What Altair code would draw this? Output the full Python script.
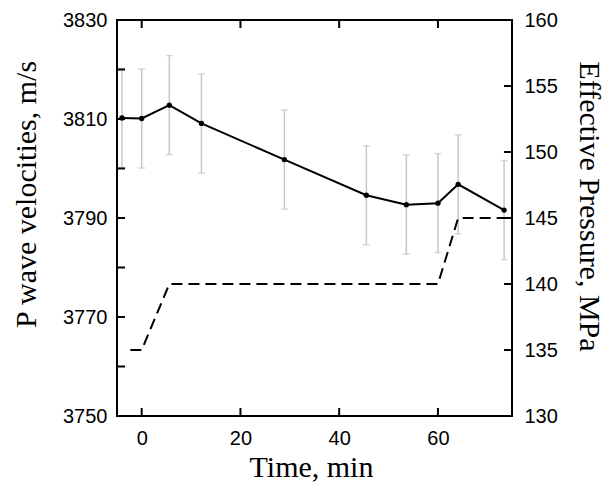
import altair as alt
import pandas as pd

# Velocity data
time_v = [-4, 0, 5.6, 12.1, 28.9, 45.5, 53.6, 60.0, 64.1, 73.4]
vel = [3810.2, 3810.1, 3812.8, 3809.1, 3801.8, 3794.6, 3792.7, 3793.0, 3796.8, 3791.6]
err = [10, 10, 10, 10, 10, 10, 10, 10, 10, 10]

# Pressure data
time_p = [-2.3, 0, 5.6, 60.0, 64.1, 73.9]
pres = [135, 135, 140, 140, 145, 145]

x_ticks = [0, 20, 40, 60]
v_labels = [3750, 3770, 3790, 3810, 3830]
v_ticks = [3760, 3770, 3780, 3790, 3800, 3810, 3820]
p_labels = [130, 135, 140, 145, 150, 155, 160]
p_ticks = [135, 140, 145, 150, 155]

W, H = 395, 396
TICK = 8

dv = pd.DataFrame({"t": time_v, "v": vel,
                   "lo": [a - b for a, b in zip(vel, err)],
                   "hi": [a + b for a, b in zip(vel, err)]})
dp = pd.DataFrame({"t": time_p, "p": pres})
dxt = pd.DataFrame({"t": x_ticks})
dvt = pd.DataFrame({"v": v_ticks})
dpt = pd.DataFrame({"p": p_ticks})

xs = alt.Scale(domain=[-5, 75], nice=False, zero=False)
vs = alt.Scale(domain=[3750, 3830], nice=False, zero=False)
ps = alt.Scale(domain=[130, 160], nice=False, zero=False)

LF = "Liberation Sans"
TF = "Liberation Serif"

errbars = alt.Chart(dv).mark_errorbar(ticks=True, size=7, thickness=1.5,
                                      color="#c8c8c8").encode(
    x=alt.X("t:Q", scale=xs, axis=None),
    y=alt.Y("lo:Q", scale=vs, axis=None),
    y2="hi:Q",
)

pline = alt.Chart(dp).mark_line(color="black", strokeWidth=2,
                                strokeDash=[11, 6]).encode(
    x=alt.X("t:Q", scale=xs, axis=None),
    y=alt.Y("p:Q", scale=ps, axis=alt.Axis(
        orient="right", values=p_labels, format="d", ticks=False, tickSize=0,
        domain=False, grid=False, labelPadding=12, labelFont=LF,
        labelFontSize=20, labelColor="black",
        title="Effective Pressure, MPa", titleFont=TF,
        titleFontSize=30, titleFontWeight="normal", titleColor="black",
        titleAngle=90, titleBaseline="alphabetic", titleAlign="center",
        titleX=67, titleY=186)),
)

vline = alt.Chart(dv).mark_line(color="black", strokeWidth=2).encode(
    x=alt.X("t:Q", scale=xs, axis=alt.Axis(
        orient="bottom", values=x_ticks, format="d", ticks=False, tickSize=0,
        domain=False, grid=False, labelPadding=12, labelFont=LF,
        labelFontSize=20, labelColor="black", title="Time, min",
        titleFont=TF, titleFontSize=30,
        titleFontWeight="normal", titleColor="black",
        titleBaseline="alphabetic", titleAlign="center",
        titleX=194, titleY=60)),
    y=alt.Y("v:Q", scale=vs, axis=alt.Axis(
        orient="left", values=v_labels, format="d", ticks=False, tickSize=0,
        domain=False, grid=False, labelPadding=10, labelFont=LF,
        labelFontSize=20, labelColor="black",
        title="P wave velocities, m/s", titleFont=TF,
        titleFontSize=30, titleFontWeight="normal", titleColor="black",
        titleAngle=-90, titleBaseline="alphabetic", titleAlign="center",
        titleX=-82, titleY=174)),
)

vpts = alt.Chart(dv).mark_circle(color="black", size=28, opacity=1).encode(
    x=alt.X("t:Q", scale=xs, axis=None),
    y=alt.Y("v:Q", scale=vs, axis=None),
)

# inward tick marks on all four sides
rule = dict(color="black", strokeWidth=2)
tk_left = alt.Chart(dvt).mark_rule(**rule).encode(
    y=alt.Y("v:Q", scale=vs, axis=None), x=alt.value(0), x2=alt.value(TICK))
tk_right = alt.Chart(dpt).mark_rule(**rule).encode(
    y=alt.Y("p:Q", scale=ps, axis=None), x=alt.value(W), x2=alt.value(W - TICK))
tk_top = alt.Chart(dxt).mark_rule(**rule).encode(
    x=alt.X("t:Q", scale=xs, axis=None), y=alt.value(0), y2=alt.value(TICK))
tk_bot = alt.Chart(dxt).mark_rule(**rule).encode(
    x=alt.X("t:Q", scale=xs, axis=None), y=alt.value(H), y2=alt.value(H - TICK))

chart = alt.layer(errbars, pline, vline, vpts,
                  tk_left, tk_right, tk_top, tk_bot).resolve_scale(
    y="independent"
).resolve_axis(x="independent", y="independent").properties(
    width=W, height=H, autosize="none",
    padding={"left": 109, "top": 12, "right": 94, "bottom": 67},
).configure_view(stroke="black", strokeWidth=2)

chart.save("out.html", embed_options={"renderer": "svg", "actions": False})
